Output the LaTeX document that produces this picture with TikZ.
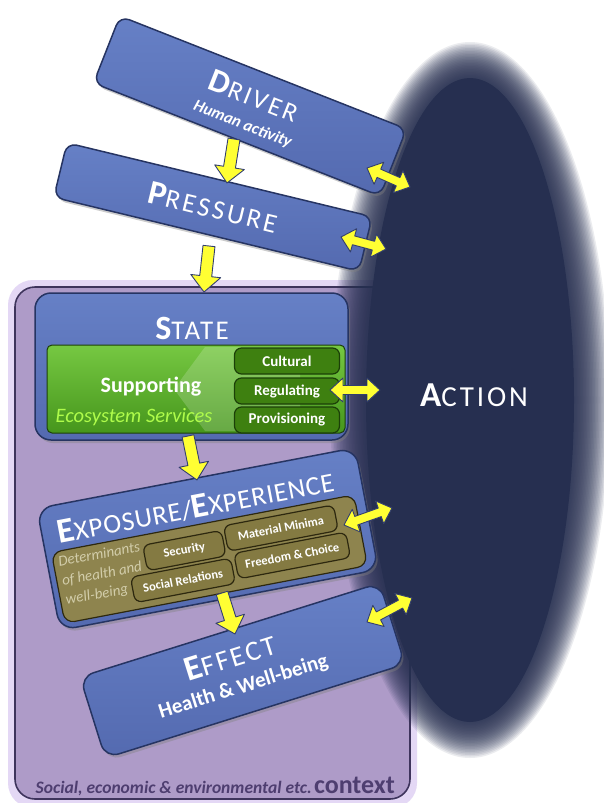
\documentclass[tikz,border=0pt]{standalone}
\usepackage{fontspec}
\setmainfont{Carlito}
\usetikzlibrary{calc,shadows}

\definecolor{boxblue}{RGB}{90,115,186}
\definecolor{boxblueL}{RGB}{102,128,198}
\definecolor{boxblueD}{RGB}{84,106,176}
\definecolor{boxedge}{RGB}{38,52,98}
\definecolor{navy}{RGB}{38,47,80}
\definecolor{ctxfill}{RGB}{174,155,200}
\definecolor{ctxedge}{RGB}{62,52,92}
\definecolor{ctxglow}{RGB}{228,216,245}
\definecolor{ctxtext}{RGB}{78,62,112}
\definecolor{grnL}{RGB}{118,200,66}
\definecolor{grnD}{RGB}{70,150,28}
\definecolor{grnbox}{RGB}{62,128,16}
\definecolor{grnedge}{RGB}{28,64,8}
\definecolor{ecotext}{RGB}{175,252,75}
\definecolor{olive}{RGB}{142,132,78}
\definecolor{olivebox}{RGB}{132,122,66}
\definecolor{oliveedge}{RGB}{45,40,15}
\definecolor{dettext}{RGB}{210,205,170}
\definecolor{arrowyellow}{RGB}{255,255,51}
\definecolor{arrowedge}{RGB}{50,62,112}

\newcommand\ttl[5]{{\fontsize{#1}{#1}\selectfont\bfseries #2}{\fontsize{#3}{#3}\selectfont\addfontfeature{LetterSpace=#5}#4}}

\newcommand\yarrow[3]{%
  \path (#2); \pgfgetlastxy\fax\fay
  \path (#3); \pgfgetlastxy\fbx\fby
  \pgfmathsetmacro\fang{atan2(\fby-\fay,\fbx-\fax)}%
  \pgfmathsetmacro\flen{veclen(\fbx-\fax,\fby-\fay)}%
  \begin{scope}[shift={(\fax,\fay)}, rotate=\fang]
  \ifnum#1=1
    \pgfmathsetmacro\fhb{\flen-16}%
    \draw[arrowshape] (0pt,6pt) -- (\fhb pt,6pt) -- (\fhb pt,15pt) -- (\flen pt,0pt)
      -- (\fhb pt,-15pt) -- (\fhb pt,-6pt) -- (0pt,-6pt) -- cycle;
  \else
    \pgfmathsetmacro\fhb{\flen-13}%
    \draw[arrowshape] (0pt,0pt) -- (13pt,12pt) -- (13pt,4.5pt) -- (\fhb pt,4.5pt) -- (\fhb pt,12pt) -- (\flen pt,0pt)
      -- (\fhb pt,-12pt) -- (\fhb pt,-4.5pt) -- (13pt,-4.5pt) -- (13pt,-12pt) -- cycle;
  \fi
  \end{scope}}

\tikzset{
  bluebox/.style={rounded corners=10pt, draw=boxedge, line width=1.5pt,
    top color=boxblueL, bottom color=boxblueD,
    drop shadow={opacity=0.4, shadow xshift=2pt, shadow yshift=-3pt}},
  titletext/.style={text=white, inner sep=0pt},
  arrowshape/.style={fill=arrowyellow, draw=arrowedge, line width=0.9pt, line join=round},
  grnsub/.style={rounded corners=7pt, fill=grnbox, draw=grnedge, line width=1.2pt,
    minimum width=105pt, minimum height=26pt, inner sep=0pt, text=white,
    font=\bfseries\fontsize{15}{15}\selectfont},
  olvsub/.style={rounded corners=7pt, fill=olivebox, draw=oliveedge, line width=1.2pt,
    minimum height=26pt, inner sep=0pt, text=white,
    font=\bfseries\fontsize{12.5}{12.5}\selectfont},
}

\begin{document}
\begin{tikzpicture}[x=1pt,y=-1pt]
\useasboundingbox (0,0) rectangle (603,803);
\fill[white] (0,0) rectangle (603,803);

% context frame
\fill[ctxglow, rounded corners=25pt] (8,280) rectangle (417,808);
\draw[ctxedge, fill=ctxfill, line width=1.6pt, rounded corners=20pt] (15,287) rectangle (410,799);

% action ellipse (soft edge)
\foreach \d in {18,16.5,...,-17}
  \fill[navy, opacity=0.09] (470,400) ellipse [x radius={(122+\d)*1pt}, y radius={(340+\d)*1pt}];
\fill[navy] (470,400) ellipse [x radius=104pt, y radius=322pt];
\node[titletext] (action) at (474,395) {\ttl{35}{A}{29}{CTION}{10}};

% context label
\node[anchor=base east, text=ctxtext, inner sep=0pt] (ctx) at (395,793)
  {{\fontsize{17.5}{18}\selectfont\bfseries\itshape Social, economic \& environmental etc.}~{\fontsize{26}{26}\selectfont\bfseries context}};

% DRIVER
\begin{scope}[shift={(250,106)}, rotate=-21.5, transform shape]
  \node[bluebox, minimum width=308pt, minimum height=72pt] (driver) at (0,0) {};
  \node[titletext] (driverT) at (0,-11) {\ttl{33}{D}{26}{RIVER}{10}};
  \node[titletext, font=\bfseries\itshape\fontsize{16.5}{16.5}\selectfont] (driverS) at (0,20) {Human activity};
\end{scope}

% PRESSURE
\begin{scope}[shift={(213,207)}, rotate=-13.6, transform shape]
  \node[bluebox, minimum width=314pt, minimum height=56pt] (pressure) at (0,0) {};
  \node[titletext] (pressureT) at (0,0) {\ttl{34}{P}{27}{RESSURE}{10}};
\end{scope}

% STATE
\node[bluebox, rounded corners=16pt, minimum width=313pt, minimum height=147pt] (state) at (191.5,366.5) {};
\node[titletext] (stateT) at (192,328) {\ttl{34}{S}{27}{TATE}{8}};
\node[rounded corners=5pt, draw=grnedge, line width=1pt, top color=grnL, bottom color=grnD,
  minimum width=298pt, minimum height=88pt] (eco) at (196,389) {};
\fill[white, opacity=0.18] (205,347) -- (300,347) -- (300,431) -- (205,431) -- (174,389) -- cycle;
\node[titletext, font=\bfseries\fontsize{22}{22}\selectfont] (supp) at (151,387) {Supporting};
\node[inner sep=0pt, text=ecotext, font=\itshape\fontsize{20.5}{20.5}\selectfont] (ecoT) at (134,417) {Ecosystem Services};
\node[grnsub] (cult) at (287,361) {Cultural};
\node[grnsub] (regu) at (287,391) {Regulating};
\node[grnsub] (prov) at (287,420) {Provisioning};

% EXPOSURE / EXPERIENCE
\begin{scope}[shift={(208,541)}, rotate=10.8, transform shape]
  \node[bluebox, rounded corners=16pt, minimum width=324pt, minimum height=124pt] (expo) at (0,-2) {};
  \node[titletext] (expoT) at (-6,-36) {\ttl{35}{E}{27}{XPOSURE/}{3}\ttl{35}{E}{27}{XPERIENCE}{3}};
  \node[rounded corners=10pt, fill=olive, draw=oliveedge, line width=1.2pt,
    minimum width=308pt, minimum height=72pt] (det) at (-2,18) {};
  \node[anchor=west, inner sep=0pt, text=dettext, align=left,
    font=\itshape\fontsize{15}{19.5}\selectfont] (detT) at (-151,13) {Determinants\\of health and\\well-being};
  \node[olvsub, minimum width=80pt] (secu) at (-25,5) {Security};
  \node[olvsub, minimum width=112pt] (mate) at (74,1) {Material Minima};
  \node[olvsub, minimum width=102pt] (soci) at (-32,34) {Social Relations};
  \node[olvsub, minimum width=114pt] (free) at (80,30) {Freedom \& Choice};
\end{scope}

% EFFECT
\begin{scope}[shift={(242.5,670.6)}, rotate=17.4, transform shape]
  \node[bluebox, rounded corners=14pt, minimum width=314pt, minimum height=85pt] (effect) at (0,0) {};
  \node[titletext] (effectT) at (-8,-17) {\ttl{35}{E}{28}{FFECT}{8}};
  \node[titletext, font=\bfseries\fontsize{21}{21}\selectfont] (effectS) at (-4,16) {Health \& Well-being};
\end{scope}

% arrow end points
\coordinate (dp1) at (234,139); \coordinate (dp2) at (227,183);
\coordinate (ps1) at (209,246); \coordinate (ps2) at (204,292);
\coordinate (se1) at (188,436); \coordinate (se2) at (197,480);
\coordinate (ef1) at (222,593); \coordinate (ef2) at (235,634);
\coordinate (da1) at (367,168); \coordinate (da2) at (410,187);
\coordinate (pa1) at (341,237); \coordinate (pa2) at (386,249);
\coordinate (ra1) at (330,390); \coordinate (ra2) at (380,390);
\coordinate (xa1) at (344,525); \coordinate (xa2) at (392,508);
\coordinate (fa1) at (367,622); \coordinate (fa2) at (412,598);

\yarrow{1}{dp1}{dp2}
\yarrow{1}{ps1}{ps2}
\yarrow{1}{se1}{se2}
\yarrow{1}{ef1}{ef2}
\yarrow{2}{da1}{da2}
\yarrow{2}{pa1}{pa2}
\yarrow{2}{ra1}{ra2}
\yarrow{2}{xa1}{xa2}
\yarrow{2}{fa1}{fa2}
\end{tikzpicture}
\end{document}
